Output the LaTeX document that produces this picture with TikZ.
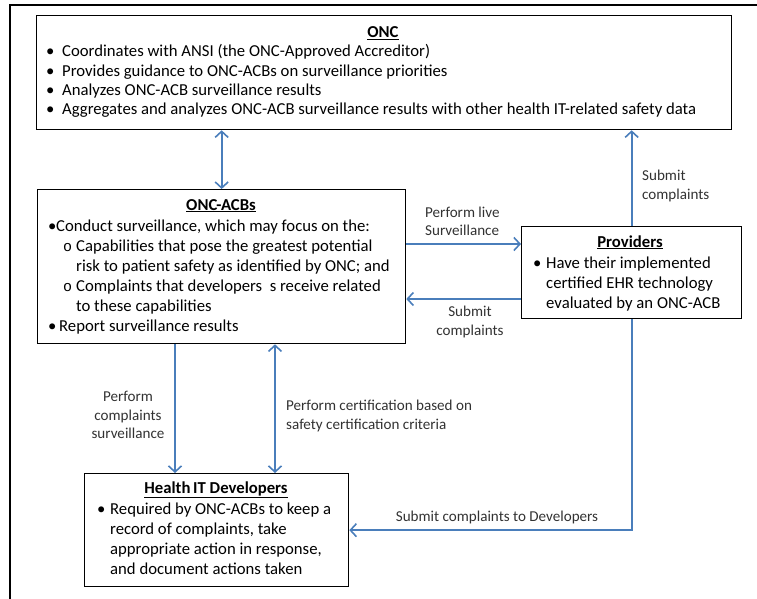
\documentclass[tikz,border=0pt]{standalone}
\usepackage{fontspec}
\setmainfont{Carlito}
\newfontfamily\monofnt{Liberation Mono}
\usetikzlibrary{arrows.meta}
\definecolor{arrblue}{RGB}{74,126,187}
\definecolor{lblgray}{RGB}{50,50,50}
\newcommand{\bodyfnt}{\fontsize{16.7}{20}\selectfont}
\newcommand{\lblfnt}{\fontsize{15.1}{18.2}\selectfont}
\newcommand{\ttl}[1]{\underline{\textbf{#1}}}
\newcommand{\subb}{{\monofnt\fontsize{15}{18}\selectfont o}}
\tikzset{
  box/.style={draw=black, line width=1.3pt, anchor=north west, inner sep=0pt},
  tx/.style={font=\bodyfnt, anchor=base west, inner sep=0pt},
  tc/.style={font=\bodyfnt, anchor=base, inner sep=0pt},
  lbl/.style={font=\lblfnt, text=lblgray, inner sep=0pt, align=center},
  arr/.style={draw=arrblue, line width=1.8pt, -{Straight Barb[length=6pt,width=13pt,line width=1.6pt]}},
  darr/.style={draw=arrblue, line width=1.8pt, {Straight Barb[length=6pt,width=13pt,line width=1.6pt]}-{Straight Barb[length=6pt,width=13pt,line width=1.6pt]}}
}
\begin{document}
\begin{tikzpicture}[x=1pt,y=-1pt]
\useasboundingbox (0,0) rectangle (757,599);
% outer frame (top and left only visible)
\draw[line width=2.4pt] (757,5) -- (10,5) -- (10,599);

% boxes
\node[box, minimum width=695pt, minimum height=114pt] (onc) at (36,15) {};
\node[box, minimum width=368pt, minimum height=154pt] (acb) at (37,189) {};
\node[box, minimum width=220pt, minimum height=92pt] (prov) at (521,226) {};
\node[box, minimum width=264pt, minimum height=113pt] (dev) at (84,473) {};

% ONC text
\node[tc] (oncT) at (383,38) {\ttl{ONC}};
\node[tx] (o1b) at (46,57) {•};
\node[tx] (o1) at (62,57) {Coordinates with ANSI (the ONC-Approved Accreditor)};
\node[tx] (o2b) at (46,76.5) {•};
\node[tx] (o2) at (62,76.5) {Provides guidance to ONC-ACBs on surveillance priorities};
\node[tx] (o3b) at (46,95.5) {•};
\node[tx] (o3) at (62,95.5) {Analyzes ONC-ACB surveillance results};
\node[tx] (o4b) at (46,114.5) {•};
\node[tx] (o4) at (62,114.5) {Aggregates and analyzes ONC-ACB surveillance results with other health IT-related safety data};

% ONC-ACBs text
\node[tc] (acbT) at (221,210) {\ttl{ONC-ACBs}};
\node[tx] (a1b) at (48,231) {•};
\node[tx] (a1) at (56,231) {Conduct surveillance, which may focus on the:};
\node[tx] (a2b) at (63,251) {\subb};
\node[tx] (a2) at (76,251) {Capabilities that pose the greatest potential};
\node[tx] (a3) at (76,271) {risk to patient safety as identified by ONC; and};
\node[tx] (a4b) at (63,291) {\subb};
\node[tx] (a4) at (76,291) {Complaints that developers\ \ s receive related};
\node[tx] (a5) at (76,311) {to these capabilities};
\node[tx] (a6b) at (48,331) {•};
\node[tx] (a6) at (59,331) {Report surveillance results};

% Providers text
\node[tc] (provT) at (630,247) {\ttl{Providers}};
\node[tx] (p1b) at (533,268) {•};
\node[tx] (p1) at (546,268) {Have their implemented};
\node[tx] (p2) at (546,288) {certified EHR technology};
\node[tx] (p3) at (546,308) {evaluated by an ONC-ACB};

% Developers text
\node[tc] (devT) at (216,493) {\ttl{Health\,IT Developers}};
\node[tx] (d1b) at (97,514) {•};
\node[tx] (d1) at (110,514) {Required by ONC-ACBs to keep a};
\node[tx] (d2) at (110,534) {record of complaints, take};
\node[tx] (d3) at (110,554) {appropriate action in response,};
\node[tx] (d4) at (110,574) {and document actions taken};

% helper coordinates
\coordinate (yLive) at (0,244);
\coordinate (yBack) at (0,299);
\coordinate (xDown) at (175,0);
\coordinate (xCert) at (275,0);

% connectors
\draw[darr] (onc.south -| acb.north) -- (acb.north);
\draw[arr] (acb.east |- yLive) -- (prov.west |- yLive);
\draw[arr] (prov.west |- yBack) -- (acb.east |- yBack);
\draw[arr] (prov.north) -- (prov.north |- onc.south);
\draw[arr] (prov.south) |- (dev.east);
\draw[arr] (acb.south -| xDown) -- (dev.north -| xDown);
\draw[darr] (acb.south -| xCert) -- (dev.north -| xCert);

% labels
\node[lbl, align=left, anchor=west] (lLive) at (425,221) {Perform live\\Surveillance};
\node[lbl] (lBack) at (470,322) {Submit\\complaints};
\node[lbl, align=left, anchor=west] (lUp) at (642,186) {Submit\\complaints};
\node[lbl] (lDown) at (128,415) {Perform\\complaints\\surveillance};
\node[lbl, align=left, anchor=west] (lCert) at (286,416) {Perform certification based on\\safety certification criteria};
\node[lbl] (lDev) at (497,517) {Submit complaints to Developers};
\end{tikzpicture}
\end{document}
